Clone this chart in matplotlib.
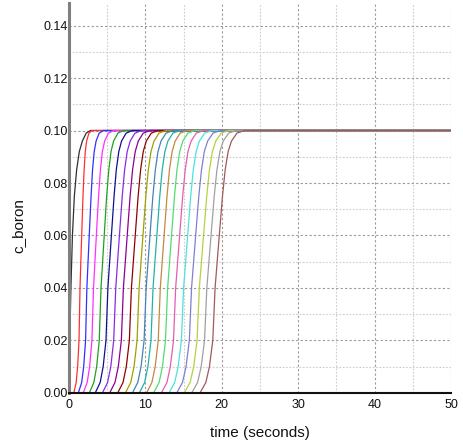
import matplotlib.pyplot as plt
from matplotlib.ticker import MultipleLocator

# concentration levels and the times (s) at which each curve crosses them
c_levels = [0.0, 0.004, 0.01, 0.02, 0.04, 0.06, 0.075, 0.085, 0.092, 0.096, 0.099, 0.1]

t_black = [0.0, 0.02, 0.05, 0.1, 0.25, 0.45, 0.7, 1.0, 1.35, 1.75, 2.25, 2.8]
t_red = [0.63, 0.94, 1.13, 1.31, 1.44, 1.66, 1.83, 1.98, 2.13, 2.31, 2.61, 3.01]
t_blue = [1.22, 1.66, 1.92, 2.17, 2.34, 2.65, 2.89, 3.08, 3.30, 3.55, 3.95, 4.51]
t_magenta = [1.86, 2.38, 2.70, 3.00, 3.21, 3.58, 3.87, 4.11, 4.37, 4.67, 5.16, 5.83]
t_green = [2.66, 3.25, 3.62, 3.96, 4.19, 4.61, 4.93, 5.21, 5.50, 5.84, 6.40, 7.16]
t_navy = [3.43, 4.08, 4.47, 4.84, 5.09, 5.55, 5.90, 6.19, 6.52, 6.88, 7.48, 8.31]
t_purple = [4.37, 5.05, 5.47, 5.85, 6.12, 6.60, 6.97, 7.28, 7.62, 8.01, 8.64, 9.51]
t_dmagenta = [5.32, 6.02, 6.45, 6.85, 7.12, 7.62, 8.00, 8.32, 8.67, 9.07, 9.72, 10.62]
t_dred = [6.37, 7.07, 7.50, 7.90, 8.17, 8.67, 9.05, 9.37, 9.72, 10.12, 10.77, 11.67]
t_olive = [7.38, 8.08, 8.51, 8.91, 9.18, 9.68, 10.06, 10.38, 10.73, 11.13, 11.78, 12.68]
t_steel = [8.30, 9.00, 9.43, 9.83, 10.10, 10.60, 10.98, 11.30, 11.65, 12.05, 12.70, 13.60]
t_teal = [9.20, 9.90, 10.33, 10.73, 11.00, 11.50, 11.88, 12.20, 12.55, 12.95, 13.60, 14.50]
t_tan = [10.15, 10.85, 11.28, 11.68, 11.95, 12.45, 12.83, 13.15, 13.50, 13.90, 14.55, 15.45]
t_lgreen = [11.07, 11.79, 12.23, 12.63, 12.91, 13.42, 13.81, 14.13, 14.49, 14.90, 15.56, 16.48]
t_pink = [12.09, 12.82, 13.26, 13.68, 13.96, 14.48, 14.88, 15.21, 15.57, 15.99, 16.66, 17.60]
t_cyan = [13.09, 13.83, 14.29, 14.71, 15.00, 15.53, 15.93, 16.27, 16.64, 17.07, 17.76, 18.71]
t_slate = [14.10, 14.85, 15.32, 15.75, 16.04, 16.58, 16.99, 17.34, 17.71, 18.15, 18.85, 19.82]
t_ygreen = [15.08, 15.85, 16.32, 16.76, 17.06, 17.61, 18.03, 18.38, 18.77, 19.21, 19.92, 20.91]
t_gray = [16.06, 16.83, 17.30, 17.74, 18.04, 18.59, 19.01, 19.36, 19.75, 20.19, 20.90, 21.89]
t_brown = [17.14, 17.91, 18.38, 18.82, 19.12, 19.67, 20.09, 20.44, 20.83, 21.27, 21.98, 22.97]

t_end = 50
c_final = 0.1

curves = [t_black, t_red, t_blue, t_magenta, t_green, t_navy, t_purple,
          t_dmagenta, t_dred, t_olive, t_steel, t_teal, t_tan, t_lgreen,
          t_pink, t_cyan, t_slate, t_ygreen, t_gray, t_brown]
colors = ['#303030', '#ff3030', '#3030ff', '#ff30ff', '#20a020', '#101090',
          '#8a2be2', '#900090', '#900000', '#a0a000', '#4682b4', '#20b2aa',
          '#c08a40', '#50dd70', '#e060b0', '#50e0e0', '#8080d0', '#b8d040',
          '#a0a0a0', '#a05a5a']

plt.rcParams['font.family'] = ['Liberation Sans', 'DejaVu Sans']

fig = plt.figure(figsize=(4.64, 4.45), dpi=100)
ax = fig.add_axes([0.1487, 0.1169, 0.8233, 0.8753])

for times, col in zip(curves, colors):
    ax.plot([0] + times + [t_end], [0] + c_levels + [c_final], color=col, lw=0.9)

ax.set_xlim(0, 50)
ax.set_ylim(0, 0.1484)
ax.xaxis.set_major_locator(MultipleLocator(10))
ax.xaxis.set_minor_locator(MultipleLocator(5))
ax.yaxis.set_major_locator(MultipleLocator(0.02))
ax.yaxis.set_minor_locator(MultipleLocator(0.01))
ax.yaxis.set_major_formatter(lambda v, p: f'{v:.2f}')

ax.grid(which='major', color='#999999', linestyle=(0, (2, 2)), lw=0.8)
ax.grid(which='minor', color='#cccccc', linestyle=(0, (1.5, 1.5)), lw=0.8)
ax.set_axisbelow(True)

ax.tick_params(which='both', length=0, labelsize=9, colors='#111111')
ax.tick_params(axis='y', pad=1)
ax.tick_params(axis='x', pad=4)

ax.spines['top'].set_visible(False)
ax.spines['right'].set_visible(False)
ax.spines['left'].set_color('#808080')
ax.spines['left'].set_linewidth(2.2)
ax.spines['bottom'].set_color('#111111')
ax.spines['bottom'].set_linewidth(1.5)

ax.set_xlabel('time (seconds)', fontsize=11, color='#111111')
ax.set_ylabel('c_boron', fontsize=11, color='#111111')
ax.yaxis.set_label_coords(-0.115, 0.43)
ax.xaxis.set_label_coords(0.5, -0.085)

plt.savefig('out.png', dpi=100)
